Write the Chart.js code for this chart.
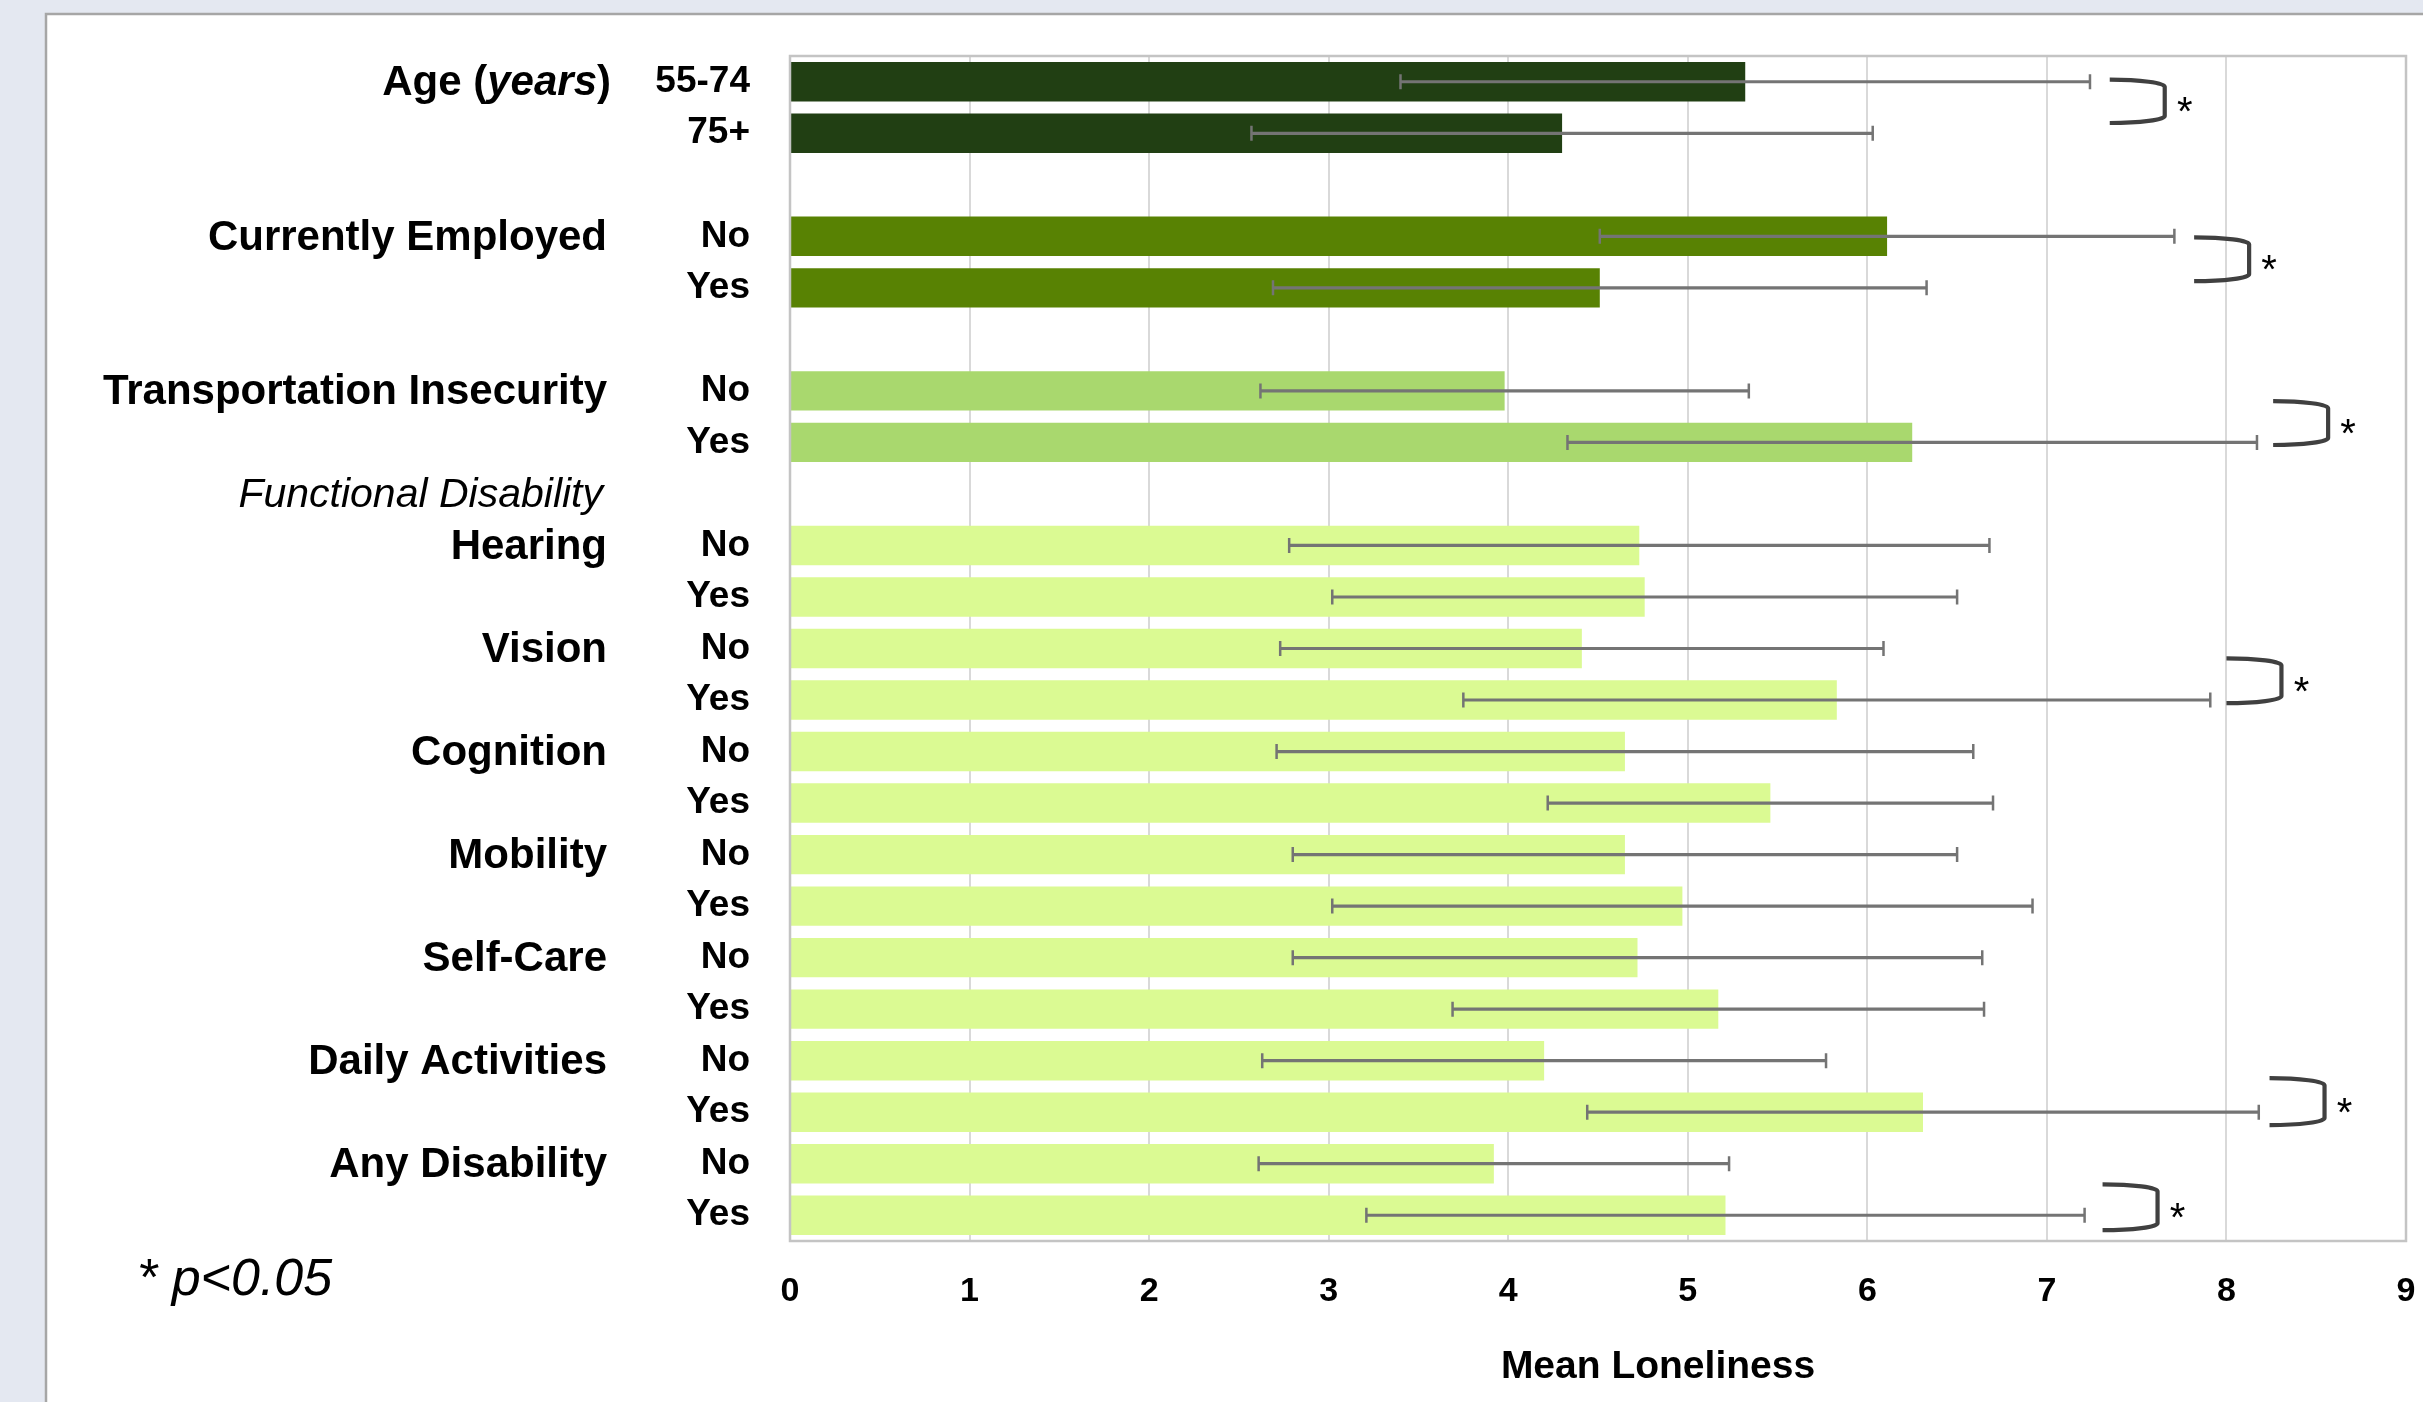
<!DOCTYPE html>
<html>
<head>
<meta charset="utf-8">
<script src="https://cdn.jsdelivr.net/npm/chart.js@4.4.1/dist/chart.umd.min.js"></script>
<style>
html,body{margin:0;padding:0;background:#e4e8f1;overflow:hidden}
#c{position:absolute;left:0;top:0;width:2423px;height:1402px}
</style>
</head>
<body>
<canvas id="c" width="2423" height="1402"></canvas>
<script>
// ---------- data ----------
const rowLabels = ['55-74','75+','','No','Yes','','No','Yes','','No','Yes','No','Yes','No','Yes','No','Yes','No','Yes','No','Yes','No','Yes'];
const meanLoneliness = [5.32,4.30,null,6.11,4.51,null,3.98,6.25,null,4.73,4.76,4.41,5.83,4.65,5.46,4.65,4.97,4.72,5.17,4.20,6.31,3.92,5.21];
const sdLoneliness   = [1.92,1.73,null,1.60,1.82,null,1.36,1.92,null,1.95,1.74,1.68,2.08,1.94,1.24,1.85,1.95,1.92,1.48,1.57,1.87,1.31,2.00];
const groupNames = ['Age (years)','Currently Employed','Transportation Insecurity','Functional Disability','Hearing','Vision','Cognition','Mobility','Self-Care','Daily Activities','Any Disability'];
const groupRows  = [0,3,6,8,9,11,13,15,17,19,21];
const xTicks = [0,1,2,3,4,5,6,7,8,9];
const sigPairs = [[0,1],[3,4],[6,7],[11,12],[19,20],[21,22]];
const sigBracketX = [7.35,7.82,8.26,8.00,8.24,7.31];
const sigTopOffset = [-0.04,0.02,0.20,0.19,0.34,0.40];
const sigBottomOffset = [-0.20,-0.13,0.05,0.06,0.25,0.29];
const xTitle = 'Mean Loneliness';
const noteText = '* p<0.05';

// ---------- styles ----------
const FONT = "'Liberation Sans', Arial, Helvetica, sans-serif";
Chart.defaults.font.family = FONT;
Chart.defaults.color = '#000';
const DARK = '#213f13', MID = '#588203', LIGHT = '#a9d86e', PALE = '#dbfa93';
const barColors = rowLabels.map((_, i) => i < 2 ? DARK : i < 5 ? MID : i < 8 ? LIGHT : PALE);

const bgPlugin = {
  id: 'bg',
  beforeDraw(chart) {
    const ctx = chart.ctx;
    ctx.save();
    ctx.fillStyle = '#e4e8f1';
    ctx.fillRect(0, 0, chart.width, chart.height);
    ctx.fillStyle = '#ffffff';
    ctx.fillRect(47, 15, chart.width - 47, chart.height - 15);
    ctx.strokeStyle = '#a6a6a6';
    ctx.lineWidth = 2.5;
    ctx.beginPath();
    ctx.moveTo(46, chart.height);
    ctx.lineTo(46, 14);
    ctx.lineTo(chart.width, 14);
    ctx.stroke();
    ctx.restore();
  }
};

const annoPlugin = {
  id: 'anno',
  afterDatasetsDraw(chart) {
    const ctx = chart.ctx;
    const xs = chart.scales.x, ys = chart.scales.y;
    const ca = chart.chartArea;
    const meta = chart.getDatasetMeta(0);
    ctx.save();

    // plot frame
    ctx.strokeStyle = '#c4c4c4';
    ctx.lineWidth = 2.5;
    ctx.strokeRect(ca.left, ca.top, ca.right - ca.left, ca.bottom - ca.top);

    // error bars
    ctx.strokeStyle = '#747474';
    meanLoneliness.forEach((m, i) => {
      if (m === null) return;
      const y = meta.data[i].y;
      const x0 = xs.getPixelForValue(m - sdLoneliness[i]);
      const x1 = xs.getPixelForValue(m + sdLoneliness[i]);
      ctx.lineWidth = 3.2;
      ctx.beginPath(); ctx.moveTo(x0, y); ctx.lineTo(x1, y); ctx.stroke();
      ctx.lineWidth = 2.5;
      ctx.beginPath();
      ctx.moveTo(x0, y - 7.5); ctx.lineTo(x0, y + 7.5);
      ctx.moveTo(x1, y - 7.5); ctx.lineTo(x1, y + 7.5);
      ctx.stroke();
    });

    // significance brackets
    const band = ys.getPixelForValue(1) - ys.getPixelForValue(0);
    sigPairs.forEach((p, k) => {
      const x0 = xs.getPixelForValue(sigBracketX[k]);
      const w = 55, ry = 7;
      const yT = ys.getPixelForValue(p[0]) + sigTopOffset[k] * band;
      const yB = ys.getPixelForValue(p[1]) + sigBottomOffset[k] * band;
      ctx.strokeStyle = '#404040';
      ctx.lineWidth = 4.2;
      ctx.beginPath();
      ctx.moveTo(x0, yT);
      ctx.ellipse(x0, yT + ry, w, ry, 0, -Math.PI / 2, 0);
      ctx.lineTo(x0 + w, yB - ry);
      ctx.ellipse(x0, yB - ry, w, ry, 0, 0, Math.PI / 2);
      ctx.stroke();
      ctx.fillStyle = '#000';
      ctx.font = '40px ' + FONT;
      ctx.textAlign = 'center';
      ctx.textBaseline = 'alphabetic';
      ctx.fillText('*', x0 + w + 20, (yT + yB) / 2 + 24);
    });

    // group labels
    const right = ca.left - 183;
    ctx.fillStyle = '#000';
    ctx.textBaseline = 'middle';
    groupNames.forEach((name, k) => {
      const y = ys.getPixelForValue(groupRows[k]) + 2;
      if (name === 'Functional Disability') {
        ctx.font = 'italic 41px ' + FONT;
        ctx.textAlign = 'right';
        ctx.fillText(name, right - 4, y);
      } else if (name.indexOf('(') >= 0) {
        const m = name.match(/^(.*\()(.*)(\))$/);
        const parts = [[m[1], 'bold 42px '], [m[2], 'italic bold 42px '], [m[3], 'bold 42px ']];
        let total = 0;
        parts.forEach(pt => { ctx.font = pt[1] + FONT; total += ctx.measureText(pt[0]).width; });
        let x = right + 4 - total;
        ctx.textAlign = 'left';
        parts.forEach(pt => { ctx.font = pt[1] + FONT; ctx.fillText(pt[0], x, y); x += ctx.measureText(pt[0]).width; });
      } else {
        ctx.font = 'bold 42px ' + FONT;
        ctx.textAlign = 'right';
        ctx.fillText(name, right, y);
      }
    });

    // axis title (offset right of plot centre as in the original)
    ctx.font = 'bold 39px ' + FONT;
    ctx.textAlign = 'center';
    ctx.textBaseline = 'middle';
    ctx.fillText(xTitle, (ca.left + ca.right) / 2 + 60, ca.bottom + 126);

    // p-value note
    ctx.font = 'italic 52px ' + FONT;
    ctx.textAlign = 'left';
    ctx.textBaseline = 'alphabetic';
    ctx.fillText(noteText, 137, ca.bottom + 54);

    ctx.restore();
  }
};

function zeroPad(scale) {
  scale.paddingTop = 0; scale.paddingBottom = 0;
  scale.paddingLeft = 0; scale.paddingRight = 0;
}

new Chart(document.getElementById('c'), {
  type: 'bar',
  data: {
    labels: rowLabels,
    datasets: [{
      data: meanLoneliness,
      backgroundColor: barColors,
      borderWidth: 0,
      barPercentage: 0.765,
      categoryPercentage: 1
    }]
  },
  options: {
    indexAxis: 'y',
    responsive: false,
    animation: false,
    devicePixelRatio: 1,
    layout: { padding: { top: 56, right: 17, bottom: 0, left: 0 } },
    plugins: { legend: { display: false }, tooltip: { enabled: false }, title: { display: false } },
    scales: {
      x: {
        min: xTicks[0], max: xTicks[xTicks.length - 1],
        afterBuildTicks(scale) { scale.ticks = xTicks.map(v => ({ value: v })); },
        grid: { color: '#d9d9d9', lineWidth: 2, drawTicks: false },
        border: { display: false },
        ticks: { font: { size: 34, weight: 'bold' }, color: '#000', padding: 30 },
        title: { display: false },
        afterFit(scale) { scale.height = 161; zeroPad(scale); }
      },
      y: {
        grid: { display: false, drawTicks: false },
        border: { display: false },
        ticks: { autoSkip: false, font: { size: 37, weight: 'bold' }, color: '#000', padding: 40 },
        afterFit(scale) { scale.width = 790; zeroPad(scale); }
      }
    }
  },
  plugins: [bgPlugin, annoPlugin]
});
</script>
</body>
</html>
